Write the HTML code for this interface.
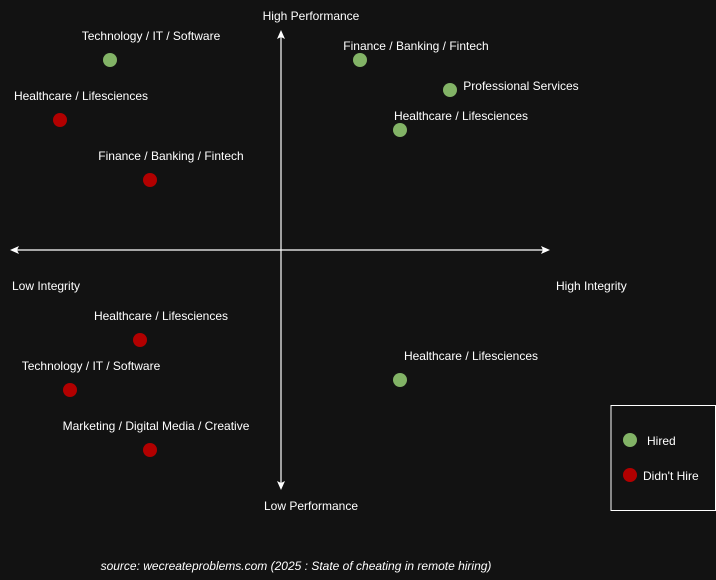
<!DOCTYPE html>
<html><head><meta charset="utf-8"><style>
html,body{margin:0;padding:0;background:#121212;}
svg{display:block;}
text{font-family:"Liberation Sans",Arial,sans-serif;font-size:12px;fill:#fff;dominant-baseline:central;}
</style></head><body>
<svg width="716" height="580" viewBox="0 0 716 580">
<rect width="716" height="580" fill="#121212"/>
<g stroke="#fff" stroke-width="1.2" fill="none">
<line x1="281" y1="34" x2="281" y2="486"/>
<line x1="14" y1="250" x2="546" y2="250"/>
</g>
<g fill="#fff">
<path d="M281,30 L277,39 L281,37 L285,39Z"/>
<path d="M281,490 L277,481 L281,483 L285,481Z"/>
<path d="M10,250 L19,246 L17,250 L19,254Z"/>
<path d="M550,250 L541,246 L543,250 L541,254Z"/>
</g>
<g text-anchor="middle">
<text x="311" y="16">High Performance</text>
<text x="311" y="506">Low Performance</text>
<text x="151" y="36">Technology / IT / Software</text>
<text x="81" y="96">Healthcare / Lifesciences</text>
<text x="171" y="156">Finance / Banking / Fintech</text>
<text x="416" y="46">Finance / Banking / Fintech</text>
<text x="521" y="86">Professional Services</text>
<text x="461" y="116">Healthcare / Lifesciences</text>
<text x="161" y="316">Healthcare / Lifesciences</text>
<text x="91" y="366">Technology / IT / Software</text>
<text x="156" y="426">Marketing / Digital Media / Creative</text>
<text x="471" y="356">Healthcare / Lifesciences</text>
<text x="296" y="566" font-style="italic">source: wecreateproblems.com (2025 : State of cheating in remote hiring)</text>
</g>
<text x="12" y="286">Low Integrity</text>
<text x="556" y="286">High Integrity</text>
<g fill="#82b366">
<circle cx="110" cy="60" r="7"/><circle cx="360" cy="60" r="7"/><circle cx="450" cy="90" r="7"/><circle cx="400" cy="130" r="7"/><circle cx="400" cy="380" r="7"/><circle cx="630" cy="440" r="7"/>
</g>
<g fill="#b20000">
<circle cx="60" cy="120" r="7"/><circle cx="150" cy="180" r="7"/><circle cx="140" cy="340" r="7"/><circle cx="70" cy="390" r="7"/><circle cx="150" cy="450" r="7"/><circle cx="630" cy="475" r="7"/>
</g>
<rect x="611" y="405.5" width="104.5" height="105" fill="none" stroke="#fff" stroke-width="1"/>
<text x="647" y="441">Hired</text>
<text x="643" y="476">Didn't Hire</text>
</svg>
</body></html>
